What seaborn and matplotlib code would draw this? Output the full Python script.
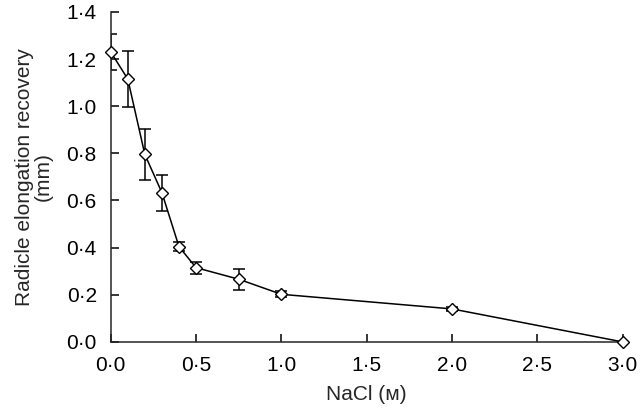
import matplotlib
matplotlib.use("Agg")
import matplotlib.pyplot as plt
import seaborn as sns
import pandas as pd

# NaCl concentration (M) and radicle elongation recovery (mm)
nacl = [0.0, 0.1, 0.2, 0.3, 0.4, 0.5, 0.75, 1.0, 2.0, 3.0]
recovery = [1.23, 1.115, 0.795, 0.633, 0.404, 0.315, 0.266, 0.202, 0.14, 0.0]
err = [0.075, 0.118, 0.11, 0.076, 0.02, 0.025, 0.045, 0.012, 0.01, 0.0]

x_ticks = [0.0, 0.5, 1.0, 1.5, 2.0, 2.5, 3.0]
x_labels = ['0·0', '0·5', '1·0', '1·5', '2·0', '2·5', '3·0']
y_ticks = [0.0, 0.2, 0.4, 0.6, 0.8, 1.0, 1.2, 1.4]
y_labels = ['0·0', '0·2', '0·4', '0·6', '0·8', '1·0', '1·2', '1·4']

sns.set_style("ticks")
plt.rcParams['font.family'] = ['Liberation Sans', 'DejaVu Sans']

df = pd.DataFrame({'nacl': nacl, 'recovery': recovery, 'err': err})
has_err = df[df['err'] > 0]

fig = plt.figure(figsize=(6.4, 4.09), dpi=100)
ax = fig.add_axes([0.173, 0.164, 0.8, 0.807])

ax.errorbar(has_err['nacl'], has_err['recovery'], yerr=has_err['err'], fmt='none',
            ecolor='black', elinewidth=1.1, capsize=4.5, capthick=1.1, zorder=2)
sns.lineplot(data=df, x='nacl', y='recovery', ax=ax, color='black', linewidth=1.1,
             marker='D', markersize=6.5, markerfacecolor='white',
             markeredgecolor='black', markeredgewidth=1.0, clip_on=False, zorder=3)

ax.set_xlim(0, 3.0)
ax.set_ylim(0, 1.4)
ax.set_xticks(x_ticks)
ax.set_xticklabels(x_labels)
ax.set_yticks(y_ticks)
ax.set_yticklabels(y_labels)
ax.tick_params(direction='in', labelsize=15, length=5.5, width=1.1, colors='black', pad=10)
for s in ['left', 'bottom']:
    ax.spines[s].set_linewidth(1.1)
sns.despine(ax=ax)

ax.set_xlabel('NaCl (ᴍ)', fontsize=15, labelpad=7)
ax.set_ylabel('Radicle elongation recovery\n(mm)', fontsize=15, labelpad=10,
              linespacing=1.0)

fig.savefig('out.png', dpi=100)
